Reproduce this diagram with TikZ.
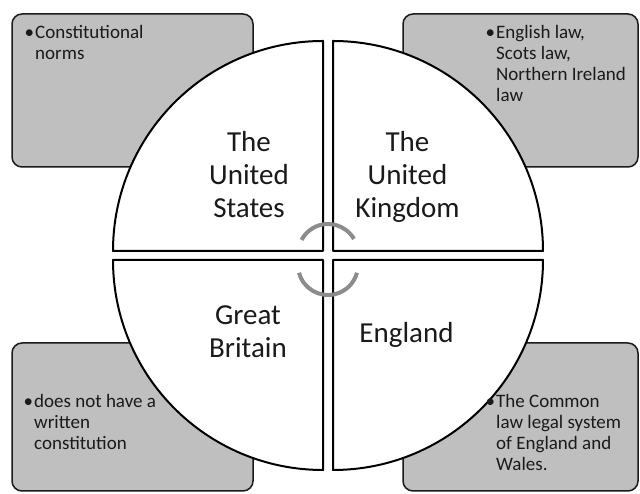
\documentclass[tikz,border=0pt]{standalone}
\usepackage{fontspec}
\setmainfont{Carlito}
\definecolor{boxgray}{HTML}{BFBFBF}
\definecolor{arcgray}{HTML}{8C8C8C}
\definecolor{ink}{HTML}{1A1A1A}
\begin{document}
\begin{tikzpicture}[x=1pt,y=1pt,
  infobox/.style={draw=ink, line width=1.5pt, fill=boxgray, rounded corners=10pt, inner sep=0pt},
  quad/.style={draw=black, line width=2pt, fill=white, line join=round},
  biglabel/.style={font=\fontsize{29}{33}\selectfont, inner sep=0pt, anchor=base, text=ink},
  boxtext/.style={font=\fontsize{19}{21}\selectfont, inner sep=0pt, anchor=base west, text=ink},
  cyc/.style={draw=arcgray, line width=4pt}]
\useasboundingbox (0,0) rectangle (640,494);
% info boxes
\node[infobox, minimum width=241pt, minimum height=153pt] (b1) at (132.5,403.5) {};
\node[infobox, minimum width=235pt, minimum height=153pt] (b2) at (520.5,403.5) {};
\node[infobox, minimum width=241pt, minimum height=148pt] (b3) at (132.5,77) {};
\node[infobox, minimum width=235pt, minimum height=148pt] (b4) at (520.5,77) {};
% quadrants
\draw[quad] (323,243) -- (113,243) arc[start angle=180, end angle=90, radius=210] -- cycle;
\draw[quad] (333,243) -- (333,453) arc[start angle=90, end angle=0, radius=210] -- cycle;
\draw[quad] (323,234) -- (323,24) arc[start angle=270, end angle=180, radius=210] -- cycle;
\draw[quad] (333,234) -- (543,234) arc[start angle=0, end angle=-90, radius=210] -- cycle;
% centre arcs
\draw[cyc] (328,240) ++(30:30) arc[start angle=30, end angle=152, radius=30];
\draw[cyc] (328,229) ++(195:30) arc[start angle=195, end angle=345, radius=30];
% quadrant labels
\node[biglabel] (us) at (249,342) {\begin{tabular}[t]{@{}c@{}}The\\United\\States\end{tabular}};
\node[biglabel] (uk) at (407.5,342) {\begin{tabular}[t]{@{}c@{}}The\\United\\Kingdom\end{tabular}};
\node[biglabel] (gb) at (248,169) {\begin{tabular}[t]{@{}c@{}}Great\\Britain\end{tabular}};
\node[biglabel] (en) at (406.5,151.5) {England};
% box texts
\node[boxtext] (t1) at (35,455) {\begin{tabular}[t]{@{}l@{}}\llap{•\hspace{1pt}}Constitutional\\norms\end{tabular}};
\node[boxtext] (t2) at (496,455) {\begin{tabular}[t]{@{}l@{}}\llap{•\hspace{1pt}}English law,\\Scots law,\\Northern Ireland\\law\end{tabular}};
\node[boxtext] (t3) at (34,86) {\begin{tabular}[t]{@{}l@{}}\llap{•\hspace{1pt}}does not have a\\written\\constitution\end{tabular}};
\node[boxtext] (t4) at (496,86) {\begin{tabular}[t]{@{}l@{}}\llap{•\hspace{1pt}}The Common\\law legal system\\of England and\\Wales.\end{tabular}};
\end{tikzpicture}
\end{document}
